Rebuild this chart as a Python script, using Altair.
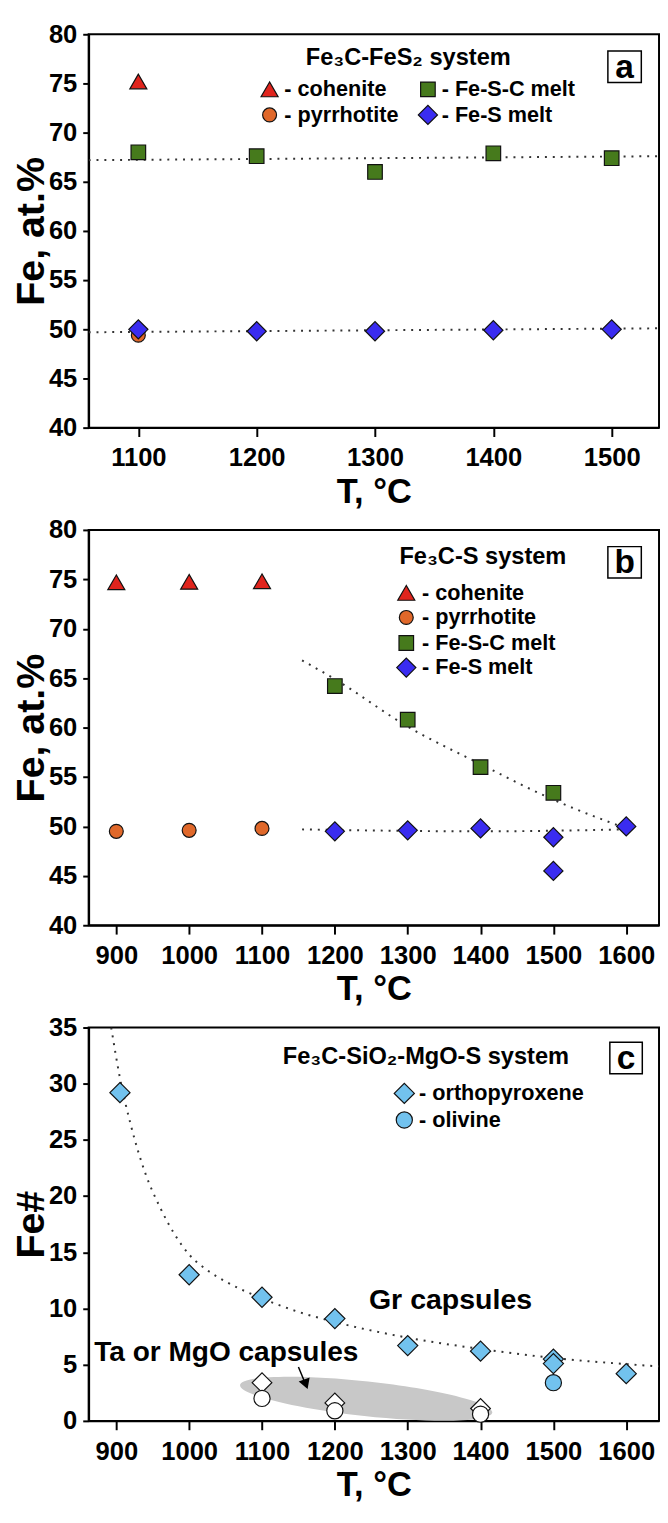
import altair as alt
import pandas as pd

FONT = "Liberation Sans"

# ---------------- Panel a: Fe3C-FeS2 system ----------------
a_coh_T = [1100]
a_coh_Fe = [75.2]
a_pyr_T = [1100]
a_pyr_Fe = [49.4]
a_fsc_T = [1100, 1200, 1300, 1400, 1500]
a_fsc_Fe = [68.0, 67.6, 66.0, 67.9, 67.4]
a_fs_T = [1100, 1200, 1300, 1400, 1500]
a_fs_Fe = [50.0, 49.8, 49.8, 49.9, 50.0]
a_trend1_T = [1058, 1540]
a_trend1_Fe = [67.2, 67.6]
a_trend2_T = [1058, 1540]
a_trend2_Fe = [49.7, 50.1]

# ---------------- Panel b: Fe3C-S system ----------------
b_coh_T = [900, 1000, 1100]
b_coh_Fe = [74.7, 74.75, 74.8]
b_pyr_T = [900, 1000, 1100]
b_pyr_Fe = [49.5, 49.6, 49.8]
b_fsc_T = [1200, 1300, 1400, 1500]
b_fsc_Fe = [64.2, 60.8, 56.0, 53.4]
b_fs_T = [1200, 1300, 1400, 1500, 1500, 1600]
b_fs_Fe = [49.5, 49.6, 49.8, 48.9, 45.5, 50.0]
b_trend1_T = [1155, 1200, 1300, 1400, 1500, 1600]
b_trend1_Fe = [66.8, 64.9, 60.1, 56.3, 52.7, 49.8]
b_trend2_T = [1155, 1400, 1600]
b_trend2_Fe = [49.7, 49.5, 49.7]

# ---------------- Panel c: Fe3C-SiO2-MgO-S system ----------------
c_opx_T = [905, 1000, 1100, 1200, 1300, 1400, 1500, 1500, 1600]
c_opx_Fe = [29.2, 13.0, 11.0, 9.1, 6.7, 6.2, 5.5, 5.1, 4.2]
c_ol_T = [1500]
c_ol_Fe = [3.4]
c_opx_open_T = [1100, 1200, 1400]
c_opx_open_Fe = [3.4, 1.6, 1.1]
c_ol_open_T = [1100, 1200, 1400]
c_ol_open_Fe = [2.0, 0.9, 0.6]
c_trend_T = [893, 905, 920, 940, 960, 980, 1000, 1025, 1050, 1100, 1150, 1200,
             1300, 1400, 1500, 1600, 1645]
c_trend_Fe = [35.0, 30.5, 26.3, 22.0, 19.0, 16.6, 14.8, 13.4, 12.4, 10.9, 9.7, 8.8,
              7.4, 6.4, 5.6, 5.05, 4.85]
c_ellipse_T = [1243]
c_ellipse_Fe = [1.97]
c_arrow_T = [1150, 1159]
c_arrow_Fe = [4.8, 3.4]
c_arrowhead_T = [1160]
c_arrowhead_Fe = [3.3]

RED = "#e0241d"
ORANGE = "#e0682a"
GREEN = "#467a1c"
BLUE = "#3a2cf0"
LBLUE = "#72c2ee"
GREY = "#c8c8c8"


def df(T, Fe):
    return pd.DataFrame({"T": T, "Fe": Fe})


def make_enc(xdom, xticks, ydom, yticks, ytitle):
    def enc():
        return dict(
            x=alt.X("T:Q", scale=alt.Scale(domain=xdom, nice=False, zero=False),
                    axis=alt.Axis(values=xticks, title="T, °C", format="d",
                                  tickSize=9, labelPadding=9, titlePadding=4)),
            y=alt.Y("Fe:Q", scale=alt.Scale(domain=ydom, nice=False, zero=False),
                    axis=alt.Axis(values=yticks, title=ytitle, format="d",
                                  tickSize=6, labelPadding=6, titlePadding=0,
                                  minExtent=38, maxExtent=38)),
        )
    return enc


def pts(T, Fe, enc, shape, fill, size):
    return alt.Chart(df(T, Fe)).mark_point(
        shape=shape, filled=True, fill=fill, stroke="#111", strokeWidth=1.2,
        opacity=1, size=size
    ).encode(**enc())


def trend(T, Fe, enc, interp="linear"):
    return alt.Chart(df(T, Fe)).mark_line(
        color="#333", strokeDash=[2, 6], strokeWidth=2, clip=True, interpolate=interp
    ).encode(**enc())


ONE = alt.Data(values=[{}])


def label(text, x, y, size=22, align="left"):
    return alt.Chart(ONE).mark_text(
        text=text, font=FONT, fontWeight="bold", fontSize=size, align=align,
        baseline="middle", color="black"
    ).encode(x=alt.value(x), y=alt.value(y))


def sym(shape, fill, x, y, size, stroke="#111"):
    return alt.Chart(ONE).mark_point(
        shape=shape, filled=True, fill=fill, stroke=stroke, strokeWidth=1.2,
        opacity=1, size=size
    ).encode(x=alt.value(x), y=alt.value(y))


def box(letter, x1, x2, y1, y2):
    r = alt.Chart(ONE).mark_rect(fill="white", stroke="black", strokeWidth=1.5).encode(
        x=alt.value(x1), x2=alt.value(x2), y=alt.value(y1), y2=alt.value(y2))
    t = label(letter, (x1 + x2) / 2, (y1 + y2) / 2 + 1, size=34, align="center")
    return r + t


W = 580

# ---- panel a
ea = make_enc([1058, 1540], [1100, 1200, 1300, 1400, 1500], [40, 80],
              list(range(40, 81, 5)), "Fe, at.%")
pa = alt.layer(
    trend(a_trend1_T, a_trend1_Fe, ea),
    trend(a_trend2_T, a_trend2_Fe, ea),
    pts(a_coh_T, a_coh_Fe, ea, "triangle-up", RED, 300),
    pts(a_pyr_T, a_pyr_Fe, ea, "circle", ORANGE, 200),
    pts(a_fsc_T, a_fsc_Fe, ea, "square", GREEN, 220),
    pts(a_fs_T, a_fs_Fe, ea, "diamond", BLUE, 380),
    label("Fe₃C-FeS₂ system", 325, 24, size=24, align="center"),
    sym("triangle-up", RED, 184, 56, 300),
    label("- cohenite", 199, 56),
    sym("square", GREEN, 345, 56, 220),
    label("- Fe-S-C melt", 359, 56),
    sym("circle", ORANGE, 184, 82, 200),
    label("- pyrrhotite", 199, 82),
    sym("diamond", BLUE, 345, 82, 380),
    label("- Fe-S melt", 359, 82),
    box("a", 528, 562, 17, 49),
).properties(width=W, height=400)

# ---- panel b
eb = make_enc([862, 1645], list(range(900, 1601, 100)), [40, 80],
              list(range(40, 81, 5)), "Fe, at.%")
pb = alt.layer(
    trend(b_trend1_T, b_trend1_Fe, eb, "monotone"),
    trend(b_trend2_T, b_trend2_Fe, eb, "monotone"),
    pts(b_coh_T, b_coh_Fe, eb, "triangle-up", RED, 300),
    pts(b_pyr_T, b_pyr_Fe, eb, "circle", ORANGE, 200),
    pts(b_fsc_T, b_fsc_Fe, eb, "square", GREEN, 220),
    pts(b_fs_T, b_fs_Fe, eb, "diamond", BLUE, 380),
    label("Fe₃C-S system", 316, 28, size=24),
    sym("triangle-up", RED, 323, 64, 300),
    label("- cohenite", 339, 64),
    sym("circle", ORANGE, 323, 89, 200),
    label("- pyrrhotite", 339, 89),
    sym("square", GREEN, 323, 115, 220),
    label("- Fe-S-C melt", 339, 115),
    sym("diamond", BLUE, 323, 140, 380),
    label("- Fe-S melt", 339, 140),
    box("b", 528, 562, 17, 49),
).properties(width=W, height=402)

# ---- panel c
ec = make_enc([862, 1645], list(range(900, 1601, 100)), [0, 35],
              list(range(0, 36, 5)), "Fe#")
ELLIPSE = "M -1 0 A 1 0.137 0 1 0 1 0 A 1 0.137 0 1 0 -1 0 Z"
ellipse = alt.Chart(df(c_ellipse_T, c_ellipse_Fe)).mark_point(
    shape=ELLIPSE, filled=True, fill=GREY, strokeWidth=0, opacity=1, size=258 * 258,
    angle=6.2, clip=True).encode(**ec())
arrow = alt.Chart(df(c_arrow_T, c_arrow_Fe)).mark_line(color="black", strokeWidth=1.5).encode(**ec())
arrowhead = alt.Chart(df(c_arrowhead_T, c_arrowhead_Fe)).mark_point(
    shape="triangle-up", filled=True, fill="black", stroke="black", opacity=1, size=70,
    angle=160).encode(**ec())

pc = alt.layer(
    ellipse,
    trend(c_trend_T, c_trend_Fe, ec, "monotone"),
    arrow, arrowhead,
    pts(c_opx_T, c_opx_Fe, ec, "diamond", LBLUE, 420),
    pts(c_ol_T, c_ol_Fe, ec, "circle", LBLUE, 270),
    pts(c_opx_open_T, c_opx_open_Fe, ec, "diamond", "white", 400),
    pts(c_ol_open_T, c_ol_open_Fe, ec, "circle", "white", 270),
    label("Fe₃C-SiO₂-MgO-S system", 343, 30, size=24, align="center"),
    sym("diamond", LBLUE, 321, 67, 420),
    label("- orthopyroxene", 336, 67),
    sym("circle", LBLUE, 321, 94, 270),
    label("- olivine", 336, 94),
    label("Gr capsules", 368, 277, size=29, align="center"),
    label("Ta or MgO capsules", 140, 330, size=28.5, align="center"),
    box("c", 530, 563, 15, 47),
).properties(width=W, height=400)

chart = alt.vconcat(pa, pb, pc, spacing=104, bounds="flush").properties(
    padding={"left": 3, "top": 0, "right": 0, "bottom": 0}
).configure_view(
    stroke="black", strokeWidth=2
).configure_axis(
    labelFont=FONT, titleFont=FONT, labelFontWeight="bold", titleFontWeight="bold",
    labelFontSize=26, labelColor="black", titleColor="black",
    domainColor="black", domainWidth=2, tickColor="black", tickWidth=2, grid=False
).configure_axisX(
    titleFontSize=35
).configure_axisY(
    titleFontSize=40
)

chart.save("out.html", embed_options={"renderer": "svg", "actions": False})
